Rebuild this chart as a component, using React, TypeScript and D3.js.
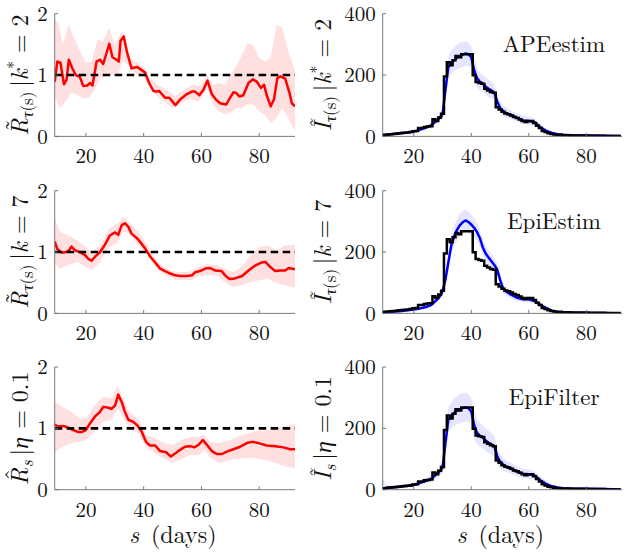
import React from "react"
import * as d3 from "d3"

const width = 625
const height = 553

// x axis of every panel, in days
const xDomain = [9.2, 92.4]
const xTicks = [20, 40, 60, 80]

// observed daily incidence, days 9..92 (black stairs)
const caseDays = d3.range(9, 93)
const cases = [
  4, 5, 6, 7, 8, 9, 10, 11, 12, 13, 14, 17, 18, 27, 27, 31, 32, 33, 56, 50, 62, 74,
  195, 242, 232, 248, 262, 258, 268, 268, 268, 268, 199, 177, 174, 172, 155, 150, 145, 142,
  95, 88, 80, 75, 72, 68, 63, 60, 55, 50, 47, 50, 50, 44, 35, 27, 18, 14, 10, 8,
  6, 5, 5, 4, 4, 4, 3, 3, 3, 3, 3, 3, 2, 2, 2, 2, 2, 2, 1, 1, 1, 1, 1, 1
]

// predicted incidence (blue) for each method
const modelDays = [9, 10, 12, 15, 18, 21, 24, 26, 28, 29, 30, 31, 32, 33, 34, 35, 36, 37, 38, 39, 40,
  41, 42, 43, 44, 45, 46, 47, 48, 49, 50, 51, 52, 54, 56, 58, 60, 62, 64, 66, 68, 70, 72, 76, 80, 86, 92]

const apeI = [3, 4, 7, 10, 13, 18, 28, 36, 52, 60, 72, 150, 225, 240, 248, 256, 262, 267, 270, 268, 258,
  215, 190, 178, 172, 162, 155, 150, 143, 115, 93, 84, 77, 69, 60, 52, 50, 46, 30, 18, 11, 7, 5, 3, 3, 2, 1]
const apeILow = [1, 2, 4, 7, 10, 14, 22, 28, 42, 49, 60, 125, 190, 205, 212, 218, 222, 226, 230, 230, 222,
  183, 160, 150, 145, 135, 128, 124, 118, 94, 76, 68, 62, 55, 47, 40, 38, 35, 22, 12, 7, 4, 3, 1, 1, 0, 0]
const apeIHigh = [6, 8, 10, 13, 17, 23, 35, 45, 63, 72, 85, 175, 260, 280, 290, 298, 305, 308, 310, 305, 295,
  250, 222, 208, 200, 192, 185, 178, 170, 138, 112, 102, 94, 84, 75, 68, 64, 58, 40, 26, 17, 12, 9, 6, 5, 4, 3]

const epiEstimI = [2, 3, 5, 7, 10, 14, 20, 27, 44, 55, 72, 110, 165, 220, 250, 272, 287, 297, 303, 298, 290,
  279, 265, 245, 215, 195, 182, 170, 158, 143, 110, 82, 72, 60, 51, 46, 46, 40, 28, 18, 9, 4, 3, 2, 1, 1, 0]
const epiEstimILow = [0, 1, 2, 4, 7, 10, 15, 21, 36, 45, 60, 92, 140, 190, 217, 236, 249, 259, 268, 263, 258,
  248, 235, 218, 190, 170, 158, 147, 136, 122, 92, 67, 58, 48, 40, 36, 36, 31, 21, 13, 6, 2, 2, 1, 0, 0, 0]
const epiEstimIHigh = [5, 6, 8, 10, 13, 18, 25, 33, 52, 65, 84, 128, 190, 250, 283, 308, 325, 335, 338, 333, 322,
  310, 295, 272, 240, 220, 206, 193, 180, 164, 128, 97, 86, 72, 62, 56, 56, 49, 35, 23, 12, 6, 4, 3, 2, 1, 1]

const epiFilterI = [4, 5, 7, 10, 13, 18, 28, 35, 52, 60, 72, 150, 228, 240, 250, 258, 262, 266, 268, 266, 255,
  210, 185, 176, 170, 160, 153, 148, 142, 110, 92, 83, 76, 68, 59, 52, 50, 46, 31, 19, 11, 7, 5, 3, 3, 2, 1]
const epiFilterILow = [0, 1, 3, 6, 9, 13, 20, 25, 38, 45, 55, 118, 190, 200, 208, 213, 216, 220, 222, 222, 212,
  170, 148, 140, 135, 125, 120, 115, 110, 85, 70, 63, 58, 52, 44, 38, 36, 34, 22, 12, 6, 3, 2, 1, 1, 0, 0]
const epiFilterIHigh = [50, 15, 14, 15, 19, 25, 38, 48, 68, 78, 92, 185, 268, 285, 297, 305, 312, 315, 316, 312, 300,
  255, 230, 218, 210, 200, 192, 185, 177, 140, 118, 106, 97, 86, 76, 68, 66, 60, 42, 28, 17, 12, 9, 6, 5, 4, 3]

// reproduction number estimates (red)
const apeRDays = [9.2, 10.1, 11.2, 12.4, 13.3, 14.1, 15.3, 16.5, 17.9, 19.1, 20.5, 21.4, 22.3, 23.7, 24.9, 26.0,
  28.1, 29.2, 30.6, 31.4, 32.0, 33.1, 34.3, 35.8, 37.8, 39.3, 40.5, 41.9, 43.4, 44.3, 45.4, 47.4, 48.9, 51.0,
  52.6, 55.0, 56.7, 57.8, 59.3, 60.7, 62.1, 63.6, 65.0, 66.5, 68.6, 69.9, 71.1, 72.0, 73.2, 74.5, 76.3, 77.8,
  79.2, 80.6, 81.7, 82.6, 84.0, 85.1, 86.3, 87.3, 89.0, 90.5, 91.3, 92.4]
const apeR = [0.89, 1.22, 1.2, 0.85, 0.92, 1.25, 1.11, 1.0, 0.97, 0.82, 0.83, 0.87, 0.83, 1.22, 1.25, 1.18,
  1.51, 1.29, 1.25, 1.22, 1.56, 1.63, 1.36, 1.11, 1.13, 1.08, 1.04, 0.87, 0.74, 0.73, 0.74, 0.63, 0.63, 0.51,
  0.6, 0.69, 0.73, 0.73, 0.67, 0.76, 0.91, 0.69, 0.6, 0.54, 0.52, 0.63, 0.72, 0.71, 0.65, 0.67, 0.87, 0.93,
  0.89, 0.79, 0.84, 0.67, 0.49, 0.6, 0.95, 0.98, 0.94, 0.71, 0.54, 0.49]
const apeRHighDays = [9.2, 10.5, 12, 14, 16, 18, 20, 22, 24, 26, 28, 30, 32, 33, 35, 37, 40, 42, 45, 48, 51,
  54, 57, 60, 62, 64, 66, 68, 70, 72, 74, 76, 78, 80, 82, 84, 86, 88, 90, 92.4]
const apeRHigh = [1.9, 1.85, 1.49, 1.82, 1.6, 1.39, 1.2, 1.22, 1.58, 1.55, 1.77, 1.49, 1.68, 1.71, 1.28, 1.22,
  1.14, 0.95, 0.84, 0.76, 0.65, 0.76, 0.84, 0.82, 1.0, 0.84, 0.87, 0.84, 1.0, 1.14, 1.33, 1.52, 1.49, 1.28,
  1.22, 1.28, 1.82, 1.77, 1.39, 1.08]
const apeRLowDays = [9.2, 11, 13, 15, 17, 19, 21, 23, 25, 27, 29, 31, 33, 35, 37, 40, 42, 44, 47, 50, 53, 56,
  59, 62, 64, 66, 68, 70, 72, 74, 76, 78, 80, 82, 84, 86, 88, 90, 92.4]
const apeRLow = [0.65, 0.46, 0.57, 0.71, 0.68, 0.62, 0.62, 0.76, 0.95, 0.98, 1.0, 1.0, 1.25, 1.14, 1.03, 0.98,
  0.79, 0.69, 0.57, 0.46, 0.54, 0.61, 0.57, 0.79, 0.52, 0.41, 0.36, 0.38, 0.46, 0.46, 0.52, 0.52, 0.41, 0.35,
  0.22, 0.3, 0.46, 0.3, 0.09]

const epiEstimRDays = [9.2, 10.1, 11.6, 13.1, 14.2, 15.0, 16.2, 17.9, 19.7, 20.8, 22.0, 23.1, 24.9, 26.6, 28.3,
  30.1, 31.2, 32.4, 33.5, 34.7, 35.8, 37.6, 38.7, 40.5, 42.2, 44.0, 45.7, 47.4, 49.2, 50.9, 52.6, 55.0, 56.7,
  57.8, 59.5, 61.3, 63.0, 64.7, 67.0, 68.2, 69.7, 71.6, 74.1, 76.3, 78.6, 80.9, 82.1, 83.8, 85.5, 87.3, 89.0,
  90.2, 92.4]
const epiEstimR = [1.17, 1.05, 0.99, 1.0, 1.03, 1.09, 1.03, 1.0, 0.95, 0.89, 0.86, 0.92, 1.0, 1.12, 1.27,
  1.32, 1.28, 1.44, 1.47, 1.41, 1.3, 1.23, 1.17, 1.06, 0.93, 0.83, 0.73, 0.69, 0.65, 0.62, 0.61, 0.61, 0.62,
  0.67, 0.69, 0.73, 0.74, 0.7, 0.69, 0.62, 0.56, 0.57, 0.61, 0.7, 0.78, 0.83, 0.84, 0.76, 0.69, 0.7, 0.7,
  0.74, 0.72]
const epiEstimRBandDays = [9.2, 11, 14, 17, 20, 22, 25, 28, 31, 33, 35, 38, 41, 44, 47, 50, 53, 56, 59, 62, 65,
  68, 71, 74, 77, 80, 83, 86, 89, 92.4]
const epiEstimRHigh = [1.54, 1.33, 1.27, 1.19, 1.08, 1.0, 1.11, 1.38, 1.46, 1.57, 1.49, 1.33, 1.14, 0.89, 0.76,
  0.69, 0.67, 0.68, 0.76, 0.8, 0.79, 0.73, 0.67, 0.76, 0.95, 1.08, 1.11, 1.03, 1.11, 1.12]
const epiEstimRLow = [0.81, 0.73, 0.79, 0.84, 0.76, 0.7, 0.84, 1.08, 1.15, 1.34, 1.3, 1.12, 0.98, 0.76, 0.63,
  0.57, 0.54, 0.54, 0.6, 0.63, 0.62, 0.51, 0.43, 0.46, 0.51, 0.54, 0.57, 0.49, 0.46, 0.42]

const epiFilterRDays = [9.2, 10.4, 12.2, 13.9, 15.6, 17.4, 18.5, 20.0, 21.4, 23.1, 24.9, 26.0, 27.4, 28.9, 30.1,
  31.2, 32.4, 33.5, 34.7, 36.2, 37.8, 39.3, 40.8, 42.2, 44.0, 45.7, 47.8, 49.4, 50.9, 52.6, 54.3, 56.1, 57.5,
  59.0, 60.5, 61.9, 63.6, 65.4, 67.0, 68.8, 71.1, 73.4, 75.7, 77.5, 79.8, 82.6, 85.5, 88.4, 90.7, 92.4]
const epiFilterR = [1.06, 1.03, 1.04, 1.01, 0.97, 0.94, 0.94, 0.97, 1.08, 1.19, 1.27, 1.35, 1.34, 1.32, 1.37,
  1.55, 1.43, 1.27, 1.14, 1.11, 1.05, 0.95, 0.78, 0.72, 0.72, 0.63, 0.61, 0.54, 0.59, 0.65, 0.7, 0.71, 0.69,
  0.73, 0.81, 0.73, 0.63, 0.58, 0.58, 0.62, 0.66, 0.7, 0.76, 0.78, 0.76, 0.72, 0.71, 0.69, 0.66, 0.66]
const epiFilterRBandDays = [9.2, 12, 15, 18, 20, 23, 26, 29, 31, 33, 35, 38, 41, 44, 47, 50, 53, 56, 59, 61, 63,
  66, 70, 74, 78, 82, 86, 89, 92.4]
const epiFilterRHigh = [1.43, 1.35, 1.27, 1.16, 1.16, 1.38, 1.51, 1.49, 1.7, 1.49, 1.27, 1.16, 0.89, 0.84, 0.76,
  0.73, 0.81, 0.86, 0.86, 0.89, 0.78, 0.76, 0.81, 0.89, 0.95, 0.97, 1.0, 1.04, 1.08]
const epiFilterRLow = [0.62, 0.7, 0.76, 0.78, 0.81, 0.95, 1.11, 1.14, 1.32, 1.16, 1.0, 0.92, 0.68, 0.59, 0.51,
  0.43, 0.5, 0.56, 0.56, 0.65, 0.52, 0.43, 0.49, 0.51, 0.52, 0.49, 0.43, 0.38, 0.35]

const methods = ["APEestim", "EpiEstim", "EpiFilter"]

const font = '"Latin Modern Roman"'
const ink = "#111"
const axisColor = "#6b6b6b"

const rowTops = [13.7, 190.7, 367]
const rowH = 122.7
const leftRange = [54.7, 295]
const rightRange = [382.7, 622]

const zip = (xs, ys) => xs.map((x, i) => [x, ys[i]])

function Axes({ x, y, ticksY, clipId }) {
  const [x0, x1] = x.range()
  const [yb, yt] = y.range()
  return (
    <g>
      <clipPath id={clipId}>
        <rect x={x0} y={yt - 20} width={x1 - x0} height={yb - yt + 20} />
      </clipPath>
      <line x1={x0} x2={x1} y1={yb} y2={yb} stroke={axisColor} strokeWidth={0.9} />
      <line x1={x0} x2={x0} y1={yb} y2={yt} stroke={axisColor} strokeWidth={0.9} />
      {xTicks.map(t => (
        <g key={t} transform={`translate(${x(t)},${yb})`}>
          <line y2={-3.5} stroke={axisColor} strokeWidth={0.9} />
          <text y={27} textAnchor="middle" fontSize={21} style={{ fontFamily: font }} fill={ink}>{t}</text>
        </g>
      ))}
      {ticksY.map(t => (
        <g key={t} transform={`translate(${x0},${y(t)})`}>
          <line x2={3.5} stroke={axisColor} strokeWidth={0.9} />
          <text x={-7} dy="0.34em" textAnchor="end" fontSize={21} style={{ fontFamily: font }} fill={ink}>{t}</text>
        </g>
      ))}
    </g>
  )
}

// rotated axis title, e.g. R~_tau(s) | k* = 2; the accent is set as a separate glyph over the letter
function YLabel({ x, cy, letter, accent, sub, param, star, value }) {
  return (
    <text transform={`translate(${x},${cy}) rotate(-90)`} textAnchor="middle" fontSize={24} style={{ fontFamily: font }} fill={ink}>
      <tspan fontStyle="italic">{letter}</tspan>
      {accent ? <tspan dx={-13} dy={-6}>{accent}</tspan> : null}
      <tspan fontSize={17} dx={accent ? 1.5 : 0} dy={accent ? 11 : 5}>
        {sub.map(([s, it], i) => <tspan key={i} fontStyle={it ? "italic" : "normal"}>{s}</tspan>)}
      </tspan>
      <tspan dy={-5}>{"\u2009|"}</tspan>
      <tspan fontStyle="italic">{param}</tspan>
      {star ? <tspan fontSize={16} dy={-9}>*</tspan> : null}
      <tspan dy={star ? 9 : 0}>{" = " + value}</tspan>
    </text>
  )
}

function RPanel({ row, r, rDays, high, highDays, low, lowDays, label }) {
  const x = d3.scaleLinear().domain(xDomain).range(leftRange)
  const y = d3.scaleLinear().domain([0, 2]).range([rowTops[row] + rowH, rowTops[row]])
  const line = d3.line().x(d => x(d[0])).y(d => y(d[1]))
  const band = zip(highDays, high).concat(zip(lowDays, low).reverse())
  const clipId = `clipR${row}`
  return (
    <g>
      <g clipPath={`url(#${clipId})`}>
        <path d={line(band) + "Z"} fill="#ff0000" fillOpacity={0.12} stroke="none" />
        <path d={line(zip(rDays, r))} fill="none" stroke="#ff0000" strokeWidth={2.5} strokeLinejoin="round" />
        <line x1={leftRange[0]} x2={leftRange[1]} y1={y(1)} y2={y(1)} stroke="#000" strokeWidth={2.6} strokeDasharray="7.5,4.5" />
      </g>
      <Axes x={x} y={y} ticksY={[0, 1, 2]} clipId={clipId} />
      <YLabel x={28} cy={rowTops[row] + rowH / 2} {...label} />
    </g>
  )
}

function IPanel({ row, mean, low, high, label, name }) {
  const x = d3.scaleLinear().domain(xDomain).range(rightRange)
  const y = d3.scaleLinear().domain([0, 400]).range([rowTops[row] + rowH, rowTops[row]])
  const area = d3.area().x((d, i) => x(modelDays[i])).y0((d, i) => y(low[i])).y1((d, i) => y(high[i]))
  const line = d3.line().x(d => x(d[0])).y(d => y(d[1]))
  const stairs = d3.line().x(d => x(d[0])).y(d => y(d[1])).curve(d3.curveStep)
  const clipId = `clipI${row}`
  return (
    <g>
      <g clipPath={`url(#${clipId})`}>
        <path d={area(modelDays)} fill="#0000ff" fillOpacity={0.1} stroke="none" />
        <path d={line(zip(modelDays, mean))} fill="none" stroke="#0000ff" strokeWidth={2.5} strokeLinejoin="round" />
        <path d={stairs(zip(caseDays, cases))} fill="none" stroke="#000" strokeWidth={2.5} />
      </g>
      <Axes x={x} y={y} ticksY={[0, 200, 400]} clipId={clipId} />
      <YLabel x={331} cy={rowTops[row] + rowH / 2} {...label} />
      <text x={554} y={rowTops[row] + 38} textAnchor="middle" fontSize={23} style={{ fontFamily: font }} fill={ink}>{name}</text>
    </g>
  )
}

export default function App() {
  const tauSub = [["\u03c4", true], ["(s)", false]]
  return (
    <svg width={width} height={height} style={{ position: "absolute", left: 0, top: 0, background: "#fff" }}>
      <RPanel row={0} r={apeR} rDays={apeRDays} high={apeRHigh} highDays={apeRHighDays} low={apeRLow} lowDays={apeRLowDays}
        label={{ letter: "R", accent: "\u02dc", sub: tauSub, param: "k", star: true, value: "2" }} />
      <RPanel row={1} r={epiEstimR} rDays={epiEstimRDays} high={epiEstimRHigh} highDays={epiEstimRBandDays} low={epiEstimRLow} lowDays={epiEstimRBandDays}
        label={{ letter: "R", accent: "\u02dc", sub: tauSub, param: "k", star: false, value: "7" }} />
      <RPanel row={2} r={epiFilterR} rDays={epiFilterRDays} high={epiFilterRHigh} highDays={epiFilterRBandDays} low={epiFilterRLow} lowDays={epiFilterRBandDays}
        label={{ letter: "R", accent: "\u02c6", sub: [["s", true]], param: "\u03b7", star: false, value: "0.1" }} />

      <IPanel row={0} mean={apeI} low={apeILow} high={apeIHigh} name={methods[0]}
        label={{ letter: "\u0128", sub: tauSub, param: "k", star: true, value: "2" }} />
      <IPanel row={1} mean={epiEstimI} low={epiEstimILow} high={epiEstimIHigh} name={methods[1]}
        label={{ letter: "\u0128", sub: tauSub, param: "k", star: false, value: "7" }} />
      <IPanel row={2} mean={epiFilterI} low={epiFilterILow} high={epiFilterIHigh} name={methods[2]}
        label={{ letter: "\u0128", sub: [["s", true]], param: "\u03b7", star: false, value: "0.1" }} />

      {[leftRange, rightRange].map((rg, i) => (
        <text key={i} x={(rg[0] + rg[1]) / 2 - 2} y={543} textAnchor="middle" fontSize={24} style={{ fontFamily: font }} fill={ink}>
          <tspan fontStyle="italic">s</tspan>
          <tspan>{"\u2002(days)"}</tspan>
        </text>
      ))}
    </svg>
  )
}
